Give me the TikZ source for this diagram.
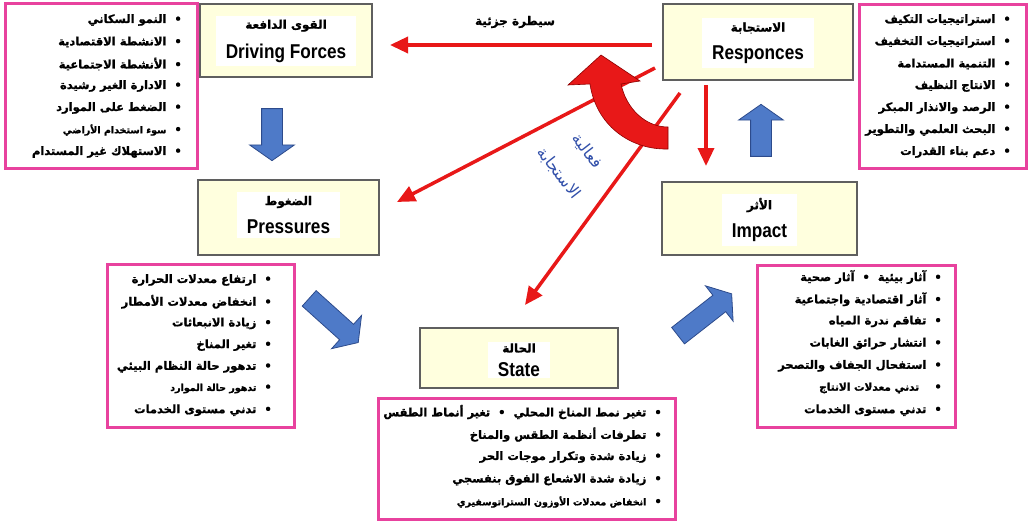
\documentclass[tikz,border=0pt]{standalone}
\usepackage{fontspec}
\setmainfont{Liberation Sans}
\newfontfamily\ar[Script=Arabic,BoldFeatures={FakeBold=1.2}]{DejaVu Sans}
\newfontfamily\en[FakeStretch=0.86]{Liberation Sans}
\TeXXeTstate=1
\usetikzlibrary{arrows.meta,shapes.arrows}
\definecolor{pinkc}{RGB}{232,66,158}
\definecolor{redc}{RGB}{232,24,24}
\definecolor{ybg}{RGB}{255,255,222}
\definecolor{ybd}{RGB}{95,95,95}
\definecolor{bluef}{RGB}{78,122,200}
\definecolor{blued}{RGB}{45,75,140}
\definecolor{bluet}{RGB}{50,80,170}
\begin{document}
\begin{tikzpicture}[x=1pt,y=-1pt,
 ybox/.style={draw=ybd,line width=1.3pt,fill=ybg,inner sep=0pt},
 lbl/.style={fill=white,align=center,inner xsep=10pt,inner ysep=4pt},
 pinkbox/.style={draw=pinkc,line width=3pt},
 item/.style={anchor=east,inner sep=0pt,font=\ar\bfseries\fontsize{11.5}{13}\selectfont},
 redarr/.style={draw=redc,line width=3.5pt,-{Triangle[length=18pt,width=16pt]}},
 blk/.style={single arrow,draw=blued,fill=bluef,line width=0.8pt,inner sep=0pt,
   single arrow head extend=12pt,single arrow tip angle=110}
]
\newcommand\artl[1]{{\ar\bfseries\fontsize{12}{13}\selectfont\beginR #1\endR}}
\newcommand\entl[1]{{\en\bfseries\fontsize{20}{21}\selectfont #1}}
\useasboundingbox (0,0) rectangle (1029,522);
\fill[white] (0,0) rectangle (1029,522);

% pink list frames
\draw[pinkbox] (5,3) rectangle (197,168);
\draw[pinkbox] (859,4) rectangle (1026,168);
\draw[pinkbox] (107,264) rectangle (294,427);
\draw[pinkbox] (757,265) rectangle (955,427);
\draw[pinkbox] (378,398) rectangle (675,519);

% yellow boxes
\node[ybox,minimum width=172pt,minimum height=73pt] (df) at (286,40.5) {};
\node[lbl] (dft) at (286,41) {\artl{القوى الدافعة}\\[11pt]\entl{Driving Forces}};
\node[ybox,minimum width=190pt,minimum height=76pt] (rs) at (758,42) {};
\node[lbl] (rst) at (758,43) {\artl{الاستجابة}\\[11pt]\entl{Responces}};
\node[ybox,minimum width=181pt,minimum height=75pt] (pr) at (288.5,217.5) {};
\node[lbl] (prt) at (288.5,215) {\artl{الضغوط}\\[11pt]\entl{Pressures}};
\node[ybox,minimum width=198pt,minimum height=60pt] (st) at (519,358) {};
\node[lbl,inner ysep=1pt] (stt) at (519,360) {\artl{الحالة}\\[9pt]\entl{State}};
\node[ybox,minimum width=195pt,minimum height=73pt] (im) at (759.5,218.5) {};
\node[lbl] (imt) at (759.5,220) {\artl{الأثر}\\[11pt]\entl{Impact}};

% lists
\foreach \txt [count=\i] in {النمو السكاني,الانشطة الاقتصادية,الأنشطة الاجتماعية,الادارة الغير رشيدة,الضغط على الموارد,{\fontsize{9.5}{10}\selectfont سوء استخدام الأراضي},الاستهلاك غير المستدام}
  \node[item] (dfl\i) at (182,{20+(\i-1)*22}) {\beginR •\ \ \txt\endR};
\foreach \txt [count=\i] in {استراتيجيات التكيف,استراتيجيات التخفيف,التنمية المستدامة,الانتاج النظيف,الرصد والانذار المبكر,البحث العلمي والتطوير,دعم بناء القدرات}
  \node[item] (rsl\i) at (1011,{20+(\i-1)*22}) {\beginR •\ \ \txt\endR};
\foreach \txt [count=\i] in {ارتفاع معدلات الحرارة,انخفاض معدلات الأمطار,زيادة الانبعاثات,تغير المناخ,تدهور حالة النظام البيئي,{\fontsize{9.5}{10}\selectfont تدهور حالة الموارد},تدني مستوى الخدمات}
  \node[item] (prl\i) at (272,{280+(\i-1)*21.7}) {\beginR •\ \ \txt\endR};
\foreach \txt [count=\i] in {آثار بيئية\ \ •\ \ آثار صحية,آثار اقتصادية واجتماعية,تفاقم ندرة المياه,انتشار حرائق الغابات,استفحال الجفاف والتصحر,{\fontsize{10.5}{11}\selectfont\ \ تدني معدلات الانتاج},تدني مستوى الخدمات}
  \node[item] (iml\i) at (942,{277+(\i-1)*22.2}) {\beginR •\ \ \txt\endR};
\foreach \txt [count=\i] in {تغير نمط المناخ المحلي\ \ •\ \ تغير أنماط الطقس,تطرفات أنظمة الطقس والمناخ,زيادة شدة وتكرار موجات الحر,زيادة شدة الاشعاع الفوق بنفسجي,{\fontsize{9.5}{10}\selectfont انخفاض معدلات الأوزون الستراتوسفيري}}
  \node[item] (stl\i) at (662,{412+(\i-1)*22.5}) {\beginR •\ \ \txt\endR};

% blue block arrows
\node[blk,minimum height=52pt,rotate=-90] (b1) at (272,131) {\rule{0pt}{20pt}};
\node[blk,minimum height=66pt,rotate=-42] (b2) at (331,318) {\rule{0pt}{20pt}};
\node[blk,minimum height=68pt,rotate=38] (b3) at (702,317) {\rule{0pt}{20pt}};
\node[blk,minimum height=52pt,rotate=90] (b4) at (761,134) {\rule{0pt}{20pt}};

% red arrows
\coordinate (r1s) at (652,45); \coordinate (r1e) at (390,45);
\coordinate (r2s) at (655,68); \coordinate (r2e) at (397,202);
\coordinate (r3s) at (680,93); \coordinate (r3e) at (525,305);
\coordinate (r4s) at (706,85); \coordinate (r4e) at (706,166);
\draw[redarr] (r1s) -- (r1e);
\draw[redarr] (r2s) -- (r2e);
\draw[redarr] (r3s) -- (r3e);
\draw[redarr] (r4s) -- (r4e);
\node[font=\ar\bfseries\fontsize{12}{13}\selectfont] (sj) at (515,22) {\beginR سيطرة جزئية\endR};

% big curved arrow
\filldraw[fill=redc,draw=red!55!black,line width=0.6pt]
  (668,149) .. controls (630,150) and (596,125) .. (590,84)
  -- (568,85) -- (601,55) -- (640,81) -- (621,84)
  .. controls (626,108) and (645,127) .. (668,127) -- cycle;

% rotated label
\node[rotate=-52,align=center,text=bluet,font=\ar\fontsize{16}{36}\selectfont] (eff) at (573,162) {\beginR فعالية\endR\\\beginR الاستجابة\endR};
\end{tikzpicture}
\end{document}
